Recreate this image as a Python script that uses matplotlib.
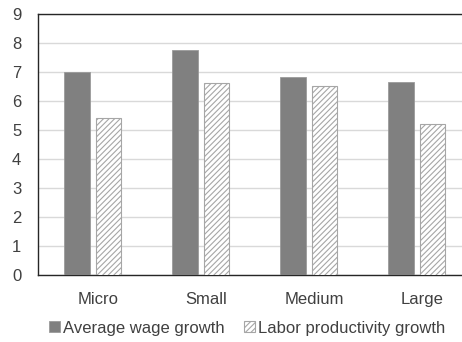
import numpy as np
import matplotlib
matplotlib.use('Agg')
from matplotlib import pyplot as plt
from matplotlib.transforms import ScaledTranslation

plt.rcParams['font.family'] = ['Liberation Sans', 'DejaVu Sans']
plt.rcParams['hatch.color'] = '#a6a6a6'
plt.rcParams['hatch.linewidth'] = 0.8

categories = ['Micro', 'Small', 'Medium', 'Large']
wage_growth = [7.0, 7.75, 6.83, 6.65]
productivity_growth = [5.4, 6.63, 6.52, 5.2]

fig = plt.figure(figsize=(4.62, 3.42), dpi=100)
ax = fig.add_axes([38 / 462, 1 - 275 / 342, 432 / 462, 261 / 342])

x = np.arange(len(categories))
w = 0.24
ax.bar(x - 0.14, wage_growth, w, color='#808080', edgecolor='#9a9a9a',
       linewidth=0.6, label='Average wage growth', zorder=3)
ax.bar(x + 0.153, productivity_growth, w, color='white', edgecolor='#a6a6a6',
       hatch='//////', linewidth=0.8, label='Labor productivity growth', zorder=3)

ax.set_xlim(-0.5, 3.5)
ax.set_ylim(0, 9)
ax.set_yticks(range(10))
ax.set_xticks(x)
ax.set_xticklabels(categories)
ax.yaxis.grid(True, color='#d9d9d9', linewidth=1, zorder=0)
ax.tick_params(length=0, labelsize=12, colors='#404040')
ax.tick_params(axis='y', pad=12)
ax.tick_params(axis='x', pad=12)
# category labels sit a little right of the bar groups
shift = ScaledTranslation(6 / 100, 0, fig.dpi_scale_trans)
for lab in ax.get_xticklabels():
  lab.set_transform(lab.get_transform() + shift)
for s in ['left', 'top', 'bottom']:
  ax.spines[s].set_color('#262626')
  ax.spines[s].set_linewidth(1)
ax.spines['right'].set_visible(False)

fig.legend(loc='center', bbox_to_anchor=(247 / 462, 1 - 328 / 342), ncol=2, frameon=False,
           fontsize=12, handlelength=0.65, handleheight=0.65, handletextpad=0.15,
           columnspacing=1.2, labelcolor='#404040', borderpad=0)

fig.savefig('out.png', dpi=100)
